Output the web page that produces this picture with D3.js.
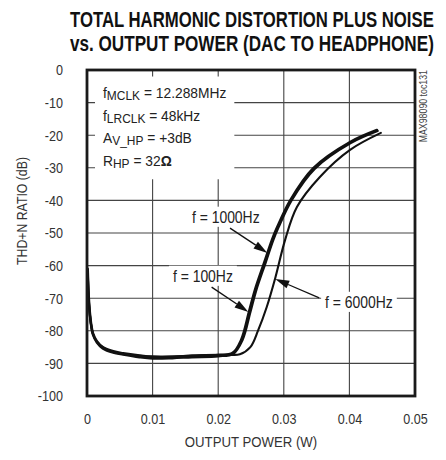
<!DOCTYPE html>
<html><head><meta charset="utf-8">
<script src="https://cdn.jsdelivr.net/npm/d3@7/dist/d3.min.js"></script>
<style>
html,body{margin:0;padding:0;background:#fff;}
svg{display:block;}
</style>
</head><body>
<svg id="c" width="446" height="460"></svg>
<script>
// ---------- data ----------
const titleLines = ["TOTAL HARMONIC DISTORTION PLUS NOISE", "vs. OUTPUT POWER (DAC TO HEADPHONE)"];
const xLabel = "OUTPUT POWER (W)";
const yLabel = "THD+N RATIO (dB)";
const sideNote = "MAX98090 toc131";
const xTicks = [0, 0.01, 0.02, 0.03, 0.04, 0.05];
const xTickLabels = ["0", "0.01", "0.02", "0.03", "0.04", "0.05"];
const yTicks = [0, -10, -20, -30, -40, -50, -60, -70, -80, -90, -100];
const yTickLabels = ["0", "-10", "-20", "-30", "-40", "-50", "-60", "-70", "-80", "-90", "-100"];

const power1000 = [0.0001,0.0003,0.0006,0.0009,0.0015,0.0024,0.004,0.0055,0.008,0.01,0.013,0.016,0.02,0.0222,0.0235,0.0247,0.0256,0.027,0.0282,0.029,0.031,0.0345,0.0401,0.0442];
const thd1000   = [-61,-71,-77.5,-80.7,-83.2,-85,-86.3,-86.9,-87.6,-88,-88,-87.7,-87.4,-86.8,-82.8,-74.2,-67.5,-59.2,-52.1,-48.2,-39.9,-30.1,-22.1,-18.4];
const power100  = [0.0001,0.0003,0.0006,0.0009,0.0015,0.0024,0.004,0.0055,0.008,0.01,0.013,0.016,0.02,0.0223,0.0237,0.0249,0.0258,0.0272,0.0284,0.0292,0.0312,0.0347,0.0402,0.0443];
const thd100    = [-62,-72,-78,-81.2,-83.6,-85.4,-86.7,-87.3,-88.1,-88.5,-88.4,-88.1,-87.8,-87,-82.8,-74.2,-67.5,-59.2,-52.1,-48.2,-39.9,-30.3,-22.4,-18.7];
const power6000 = [0.0001,0.0003,0.0006,0.0009,0.0015,0.0024,0.004,0.0055,0.008,0.01,0.013,0.016,0.02,0.022,0.0233,0.0249,0.0261,0.0274,0.0287,0.0302,0.032,0.0355,0.0401,0.0448];
const thd6000   = [-61.5,-71.5,-77.8,-80.9,-83.3,-85.1,-86.5,-87.1,-87.7,-87.9,-87.9,-87.6,-87.4,-87.4,-87.2,-85,-79.8,-72.7,-63.8,-52.1,-42,-32.8,-24.5,-19.3];

const seriesNames = ["f = 1000Hz", "f = 100Hz", "f = 6000Hz"];
// label anchor [W, dB], arrow tail [W, dB], arrow tip [W, dB]
const labelPos  = [[0.0160, -45.1], [0.0131, -63.2], [0.0363, -71.2]];
const arrowTail = [[0.0218, -48.5], [0.0190, -66.6], [0.0354, -69.9]];
const arrowTip  = [[0.0275, -56.1], [0.0246, -74.2], [0.0287, -64.1]];

const condLines = [
  [["f",false],["MCLK",true],[" = 12.288MHz",false]],
  [["f",false],["LRCLK",true],[" = 48kHz",false]],
  [["A",false],["V_HP",true],[" = +3dB",false]],
  [["R",false],["HP",true],[" = 32",false],["Ω",false,true]]
];
const condPos = [0.00244, -8.6]; // first baseline in data units

// ---------- chart ----------
const FONT = "'Liberation Sans Narrow','Arial Narrow','Liberation Sans',Arial,sans-serif";
const svg = d3.select("#c");
const L = 87, R = 415, T = 70, B = 396;
const x = d3.scaleLinear().domain([0, 0.05]).range([L, R]);
const y = d3.scaleLinear().domain([-100, 0]).range([B, T]);

// squeeze a text horizontally about its anchor x (emulates a condensed face)
function squeeze(sel, k, pre) {
  sel.each(function () {
    const ax = +(this.getAttribute("x") || 0);
    const p = pre || "";
    this.setAttribute("transform", `${p} translate(${ax},0) scale(${k},1) translate(${-ax},0)`);
  });
}

// title
const tt = svg.append("g").selectAll("text").data(titleLines).join("text")
  .attr("x", 70).attr("y", (d,i) => 27 + i*24)
  .style("font-family", FONT).style("font-weight", "bold").style("font-size", "22px")
  .attr("fill", "#111").text(d => d);
tt.each(function () {
  const w = this.getComputedTextLength();
  squeeze(d3.select(this), 364 / w);
});

// grid
const grid = svg.append("g");
grid.selectAll(".vg").data(xTicks.slice(1, -1)).join("line")
  .attr("x1", d => x(d)).attr("x2", d => x(d)).attr("y1", T).attr("y2", B)
  .attr("stroke", "#444").attr("stroke-width", 1.1);
grid.selectAll(".hg").data(yTicks.slice(1, -1)).join("line")
  .attr("x1", L).attr("x2", R).attr("y1", d => y(d)).attr("y2", d => y(d))
  .attr("stroke", "#444").attr("stroke-width", 1.1);

// axes labels
const xa = svg.append("g").attr("transform", `translate(0,${B})`)
  .call(d3.axisBottom(x).tickValues(xTicks).tickSize(0).tickPadding(17)
    .tickFormat((d,i) => xTickLabels[i]));
const ya = svg.append("g").attr("transform", `translate(${L},0)`)
  .call(d3.axisLeft(y).tickValues(yTicks).tickSize(0).tickPadding(24)
    .tickFormat((d,i) => yTickLabels[i]));
[xa, ya].forEach(a => {
  a.select(".domain").remove();
  a.selectAll("text").style("font-family", FONT).style("font-size", "15px").attr("fill", "#333");
  squeeze(a.selectAll("text"), 0.84);
});

const xl = svg.append("text").attr("x", (L+R)/2).attr("y", 447).attr("text-anchor", "middle")
  .style("font-family", FONT).style("font-size", "15px").attr("fill", "#333").text(xLabel);
squeeze(xl, 0.88);
svg.append("text").attr("transform", `translate(27,211) rotate(-90) scale(0.82,1)`).attr("text-anchor", "middle")
  .style("font-family", FONT).style("font-size", "15px").attr("fill", "#333").text(yLabel);
svg.append("text").attr("transform", `translate(427,${T}) rotate(-90) scale(0.88,1)`).attr("text-anchor", "end")
  .style("font-family", FONT).style("font-size", "10px").attr("fill", "#444").text(sideNote);

// helper: white box behind text
function boxBehind(g, padX, padY) {
  const bb = g.node().getBBox();
  g.insert("rect", ":first-child")
    .attr("x", bb.x - padX).attr("y", bb.y - padY)
    .attr("width", bb.width + 2*padX).attr("height", bb.height + 2*padY)
    .attr("fill", "#fff");
}

// conditions block
const cg = svg.append("g");
const ct = cg.append("text").attr("x", x(condPos[0]))
  .style("font-family", FONT).style("font-size", "15px").attr("fill", "#222");
condLines.forEach((line, i) => {
  line.forEach((seg, j) => {
    const ts = ct.append("tspan");
    if (j === 0) ts.attr("x", x(condPos[0])).attr("y", y(condPos[1]) + i*22.7);
    if (seg[1]) ts.attr("dy", 2).style("font-size", "13px");
    else if (j > 0 && line[j-1][1]) ts.attr("dy", -2);
    if (seg[2]) ts.style("font-weight", "bold");
    ts.text(seg[0]);
  });
});
squeeze(ct, 0.92);
boxBehind(cg, 8, 8);

// series labels
seriesNames.forEach((s, i) => {
  const g = svg.append("g");
  const t = g.append("text").attr("x", x(labelPos[i][0])).attr("y", y(labelPos[i][1]))
    .attr("dy", "0.35em")
    .style("font-family", FONT).style("font-size", "16px").attr("fill", "#222").text(s);
  squeeze(t, 0.87);
  boxBehind(g, 4, 1);
});

// curves
const line = d3.line().x(d => x(d[0])).y(d => y(d[1])).curve(d3.curveCatmullRom.alpha(0.5));
const curves = [
  [d3.zip(power100, thd100), 2.4],
  [d3.zip(power1000, thd1000), 2.6],
  [d3.zip(power6000, thd6000), 2.1]
];
svg.append("g").selectAll("path").data(curves).join("path")
  .attr("d", d => line(d[0])).attr("fill", "none")
  .attr("stroke", "#111").attr("stroke-width", d => d[1])
  .attr("stroke-linejoin", "round").attr("stroke-linecap", "round");

// arrows
const ag = svg.append("g");
arrowTail.forEach((t, i) => {
  const x0 = x(t[0]), y0 = y(t[1]), x1 = x(arrowTip[i][0]), y1 = y(arrowTip[i][1]);
  const ang = Math.atan2(y1 - y0, x1 - x0);
  const len = 14, hw = 4;
  const bx = x1 - len*Math.cos(ang), by = y1 - len*Math.sin(ang);
  ag.append("line").attr("x1", x0).attr("y1", y0).attr("x2", bx).attr("y2", by)
    .attr("stroke", "#111").attr("stroke-width", 1.3);
  ag.append("path")
    .attr("d", `M${x1},${y1}L${bx + hw*Math.sin(ang)},${by - hw*Math.cos(ang)}L${bx - hw*Math.sin(ang)},${by + hw*Math.cos(ang)}Z`)
    .attr("fill", "#111");
});

// frame
svg.append("rect").attr("x", L).attr("y", T).attr("width", R - L).attr("height", B - T)
  .attr("fill", "none").attr("stroke", "#1a1a1a").attr("stroke-width", 2.8);
</script>
</body></html>
